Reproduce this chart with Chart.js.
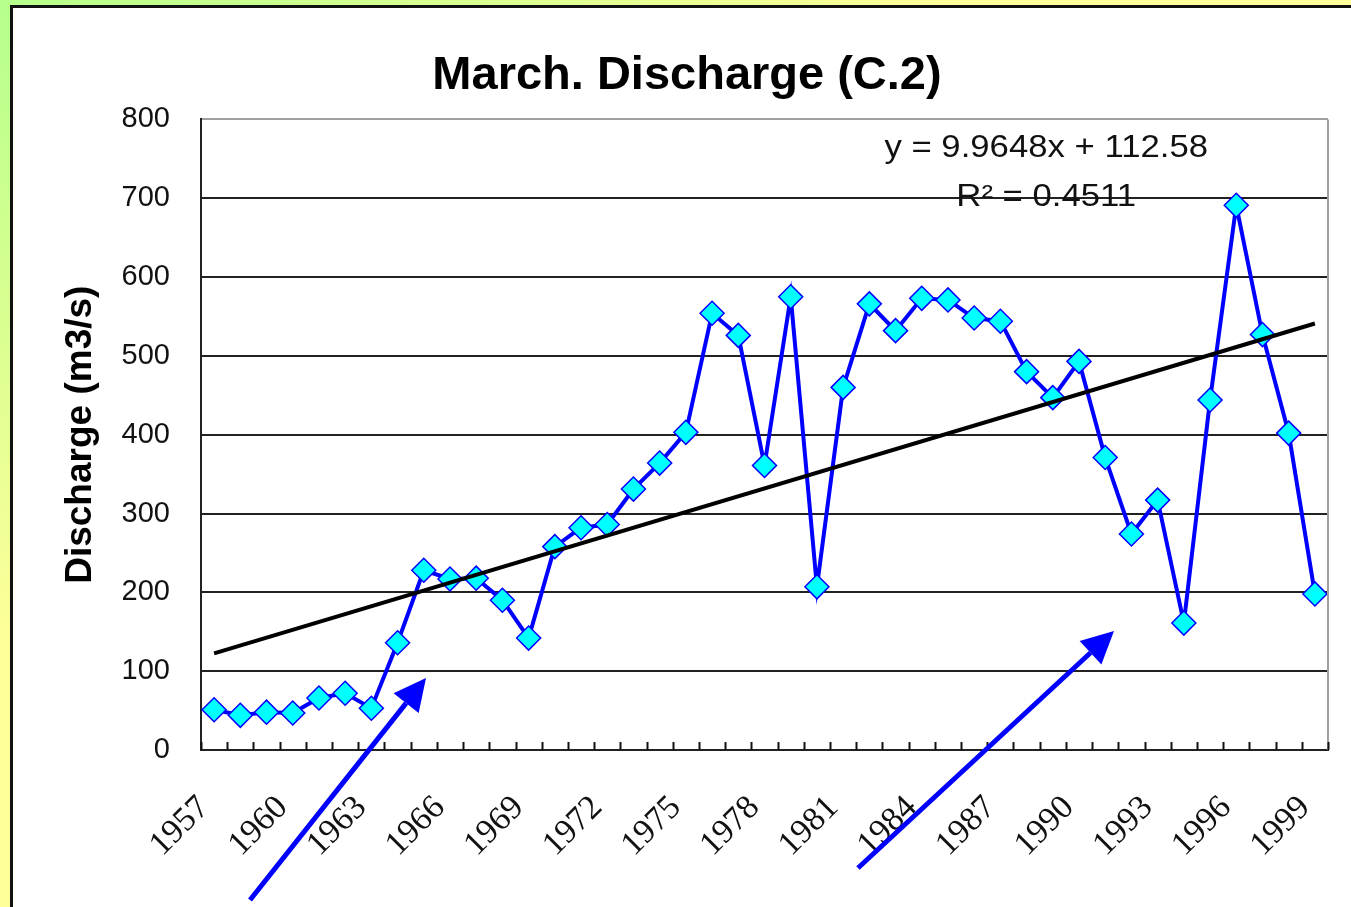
<!DOCTYPE html>
<html lang="en">
<head>
    <meta charset="UTF-8">
    <title>March. Discharge (C.2)</title>
    <script src="https://cdn.jsdelivr.net/npm/chart.js"></script>
    <style>
        html, body {
            margin: 0;
            padding: 0;
            width: 1351px;
            height: 907px;
            overflow: hidden;
            background: radial-gradient(ellipse 950px 650px at 0 0, #b5ff8c 0%, #d6ff90 45%, #ffff99 100%);
        }
        #panel {
            position: absolute;
            left: 10px;
            top: 5px;
            width: 1400px;
            height: 1000px;
            background: #fff;
            border: 3px solid #111;
        }
        #chart {
            position: absolute;
            left: 0;
            top: 0;
        }
    </style>
</head>
<body>
    <div id="panel"></div>
    <canvas id="chart" width="1351" height="907"></canvas>

    <script>
        const years = ['1957', '1958', '1959', '1960', '1961', '1962', '1963', '1964', '1965', '1966',
            '1967', '1968', '1969', '1970', '1971', '1972', '1973', '1974', '1975', '1976',
            '1977', '1978', '1979', '1980', '1981', '1982', '1983', '1984', '1985', '1986',
            '1987', '1988', '1989', '1990', '1991', '1992', '1993', '1994', '1995', '1996',
            '1997', '1998', '1999'];
        const discharge = [51, 44, 48, 47, 66, 72, 53, 136, 228, 217,
            218, 190, 142, 258, 282, 286, 331, 364, 403, 554,
            526, 361, 575, 207, 460, 566, 532, 573, 571, 548,
            544, 480, 447, 493, 371, 274, 317, 161, 444, 691,
            527, 402, 198];
        // linear trend as drawn, first and last year only
        const trendEnds = [122.5, 541.1];
        const yTicks = [0, 100, 200, 300, 400, 500, 600, 700, 800];
        const equationText = ['y = 9.9648x + 112.58', 'R\u00B2 = 0.4511'];

        const trend = years.map((y, i) => i === 0 ? trendEnds[0] : (i === years.length - 1 ? trendEnds[1] : null));

        // inside tick marks, right frame, equation and the two blue arrows
        const extras = {
            id: 'extras',
            afterDraw(chart) {
                const ctx = chart.ctx;
                const area = chart.chartArea;
                const x = chart.scales.x;
                const half = (x.getPixelForValue(1) - x.getPixelForValue(0)) / 2;
                ctx.save();

                ctx.strokeStyle = '#a0a0a0';
                ctx.lineWidth = 2;
                ctx.beginPath();
                ctx.moveTo(area.right, area.top);
                ctx.lineTo(area.right, area.bottom);
                ctx.stroke();

                ctx.strokeStyle = '#111';
                ctx.lineWidth = 2;
                for (let i = 0; i <= years.length; i++) {
                    const px = Math.round(x.getPixelForValue(i) - half) + 0.5;
                    ctx.beginPath();
                    ctx.moveTo(px, area.bottom);
                    ctx.lineTo(px, area.bottom - 8);
                    ctx.stroke();
                }

                ctx.fillStyle = '#111';
                ctx.font = '31px "Liberation Sans", Arial, sans-serif';
                ctx.textAlign = 'center';
                ctx.textBaseline = 'middle';
                const cx = area.left + area.width * 0.75;
                ctx.save();
                ctx.translate(cx, 0);
                ctx.scale(1.12, 1);
                ctx.fillText(equationText[0], 0, area.top + 29);
                ctx.fillText(equationText[1], 0, area.top + 78);
                ctx.restore();

                drawArrow(ctx, 250, 900, 426, 678);
                drawArrow(ctx, 858, 868, 1114, 631);
                ctx.restore();
            }
        };

        function drawArrow(ctx, x1, y1, x2, y2) {
            const ang = Math.atan2(y2 - y1, x2 - x1);
            const len = 32, w = 16;
            const bx = x2 - Math.cos(ang) * len;
            const by = y2 - Math.sin(ang) * len;
            ctx.strokeStyle = '#0000ff';
            ctx.fillStyle = '#0000ff';
            ctx.lineWidth = 5;
            ctx.beginPath();
            ctx.moveTo(x1, y1);
            ctx.lineTo(bx, by);
            ctx.stroke();
            ctx.beginPath();
            ctx.moveTo(x2, y2);
            ctx.lineTo(bx + Math.sin(ang) * w, by - Math.cos(ang) * w);
            ctx.lineTo(bx - Math.sin(ang) * w, by + Math.cos(ang) * w);
            ctx.closePath();
            ctx.fill();
        }

        new Chart(document.getElementById('chart'), {
            type: 'line',
            data: {
                labels: years,
                datasets: [{
                    label: 'Trend',
                    data: trend,
                    spanGaps: true,
                    borderColor: '#000',
                    borderWidth: 4,
                    pointRadius: 0,
                    order: 0
                }, {
                    label: 'Discharge',
                    data: discharge,
                    borderColor: '#0000ff',
                    borderWidth: 4,
                    pointStyle: 'rectRot',
                    pointRadius: 12,
                    pointBackgroundColor: '#00ffff',
                    pointBorderColor: '#0000ff',
                    pointBorderWidth: 1.5,
                    order: 1
                }]
            },
            options: {
                responsive: false,
                animation: false,
                layout: { padding: { top: 0, right: 23, bottom: 0, left: 46 } },
                plugins: {
                    legend: { display: false },
                    tooltip: { enabled: false },
                    title: {
                        display: true,
                        text: 'March. Discharge (C.2)',
                        color: '#000',
                        font: { family: '"Liberation Sans", Arial, sans-serif', size: 47, weight: 'bold' },
                        padding: { top: 48, bottom: 15 }
                    }
                },
                scales: {
                    x: {
                        offset: true,
                        grid: { display: false },
                        border: { color: '#222', width: 2 },
                        ticks: {
                            autoSkip: false,
                            maxRotation: 45,
                            minRotation: 45,
                            padding: 30,
                            labelOffset: -10,
                            color: '#111',
                            font: { family: '"Liberation Serif", "Times New Roman", serif', size: 34 },
                            callback: function (val, index) {
                                return index % 3 === 0 ? this.getLabelForValue(val) : '';
                            }
                        },
                        afterFit: (scale) => {
                            scale.height = 157;
                            scale.paddingLeft = 0;
                            scale.paddingRight = 0;
                        }
                    },
                    y: {
                        min: yTicks[0],
                        max: yTicks[yTicks.length - 1],
                        afterBuildTicks: (scale) => { scale.ticks = yTicks.map(v => ({ value: v })); },
                        grid: {
                            drawTicks: false,
                            lineWidth: 2,
                            color: (c) => c.tick && c.tick.value === 800 ? '#a0a0a0' : '#222'
                        },
                        border: { color: '#222', width: 2 },
                        ticks: {
                            padding: 31,
                            color: '#111',
                            font: { family: '"Liberation Sans", Arial, sans-serif', size: 29 }
                        },
                        title: {
                            display: true,
                            text: 'Discharge (m3/s)',
                            color: '#000',
                            font: { family: '"Liberation Sans", Arial, sans-serif', size: 37, weight: 'bold' },
                            padding: { top: 13, bottom: 0 }
                        },
                        afterFit: (scale) => { scale.width = 155; }
                    }
                }
            },
            plugins: [extras]
        });
    </script>
</body>
</html>
